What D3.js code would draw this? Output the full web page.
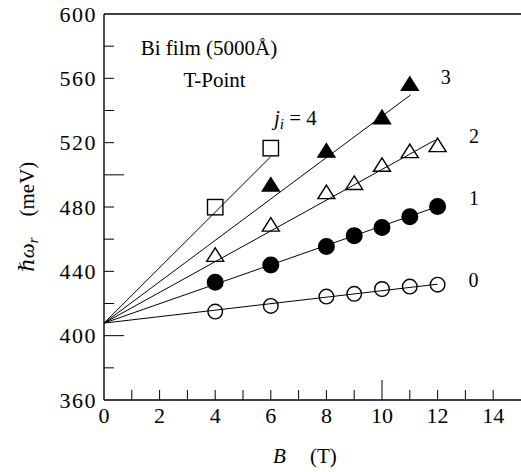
<!DOCTYPE html>
<html>
<head>
<meta charset="utf-8">
<script src="https://cdn.jsdelivr.net/npm/d3@7"></script>
<style>
  html, body { margin: 0; padding: 0; background: #fff; }
  svg { display: block; }
</style>
</head>
<body>
<svg id="chart" width="521" height="472"></svg>
<script>
// ---------------- data ----------------
const seriesNames = ["0", "1", "2", "3", "4"];
const s0B = [4, 6, 8, 9, 10, 11, 12];
const s0V = [415, 418.5, 424.3, 426, 429, 430.5, 431.7];
const s1B = [4, 6, 8, 9, 10, 11, 12];
const s1V = [433.2, 444, 455.4, 462.2, 467.2, 474, 480.3];
const s2B = [4, 6, 8, 9, 10, 11, 12];
const s2V = [449, 467.8, 488, 493.7, 505, 513.5, 517.2];
const s3B = [6, 8, 10, 11];
const s3V = [492.7, 513.8, 534.6, 555.3];
const s4B = [4, 6];
const s4V = [479.9, 516.6];
// fitted straight lines: common origin and end points
const lineOriginB = 0;
const lineOriginV = 407.8;
const lineEndB = [12, 12, 11.9, 11.03, 6.0];
const lineEndV = [432, 480.3, 521.5, 549.7, 511.3];
// label anchors (data coordinates)
const seriesLabelB = [13.29, 13.31, 13.31, 12.29];
const seriesLabelV = [434.7, 485.5, 524.2, 561.1];
const seriesLabelText = ["0", "1", "2", "3"];
const xTicks = [0, 2, 4, 6, 8, 10, 12, 14];
const yTicks = [360, 400, 440, 480, 520, 560, 600];
const xMinor = d3.range(1, 15);
const yMinor = d3.range(380, 600, 20);
const xLongTicks = [10];
const yLongTicks = [400, 500];

const FONT = "'Liberation Serif', 'Times New Roman', Tinos, 'DejaVu Serif', serif";

// ---------------- scales ----------------
const svg = d3.select("#chart").attr("font-family", FONT);
const x = d3.scaleLinear().domain([0, 15]).range([104, 521]);
const y = d3.scaleLinear().domain([360, 600]).range([400, 14]);

const series = [
  {B: s0B, V: s0V, type: "circle", fill: false},
  {B: s1B, V: s1V, type: "circle", fill: true},
  {B: s2B, V: s2V, type: "tri", fill: false},
  {B: s3B, V: s3V, type: "tri", fill: true},
  {B: s4B, V: s4V, type: "square", fill: false}
];

// ---------------- axes frame ----------------
const g = svg.append("g");
g.append("line").attr("x1", x(0)).attr("x2", x(15)).attr("y1", y(360)).attr("y2", y(360))
  .attr("stroke", "#000").attr("stroke-width", 1.4);
g.append("line").attr("x1", x(0)).attr("x2", x(15)).attr("y1", y(600)).attr("y2", y(600))
  .attr("stroke", "#000").attr("stroke-width", 1.4);
g.append("line").attr("x1", x(0)).attr("x2", x(0)).attr("y1", y(360)).attr("y2", y(600))
  .attr("stroke", "#000").attr("stroke-width", 1.4);

// ticks (inward)
g.selectAll(".xt").data(xMinor).enter().append("line")
  .attr("x1", d => x(d)).attr("x2", d => x(d))
  .attr("y1", y(360)).attr("y2", d => y(360) - (xLongTicks.includes(d) ? 20 : 10))
  .attr("stroke", "#000").attr("stroke-width", 1);
g.selectAll(".yt").data(yMinor).enter().append("line")
  .attr("y1", d => y(d)).attr("y2", d => y(d))
  .attr("x1", x(0)).attr("x2", d => x(0) + (yLongTicks.includes(d) ? 20 : 10))
  .attr("stroke", "#000").attr("stroke-width", 1);

// tick labels
g.selectAll(".xl").data(xTicks).enter().append("text")
  .attr("font-family", FONT)
  .attr("x", d => x(d)).attr("y", 423)
  .attr("text-anchor", "middle").attr("font-size", 22)
  .text(d => d);
g.selectAll(".yl").data(yTicks).enter().append("text")
  .attr("font-family", FONT)
  .attr("x", 97).attr("y", d => y(d) + 7.5)
  .attr("text-anchor", "end").attr("font-size", 22).attr("letter-spacing", 1.5)
  .text(d => d);

// axis titles
const xt = g.append("text").attr("font-family", FONT).attr("x", 273).attr("y", 463).attr("font-size", 21);
xt.append("tspan").attr("font-style", "italic").text("B");
xt.append("tspan").attr("x", 310).text("(T)");

const yt = g.append("text").attr("font-family", FONT)
  .attr("transform", "translate(34,216.7) rotate(-90)")
  .attr("text-anchor", "middle").attr("font-size", 21);
yt.append("tspan").attr("font-style", "italic").text("ℏω");
yt.append("tspan").attr("font-style", "italic").attr("font-size", 15).attr("dy", 4).text("r");
yt.append("tspan").attr("dy", -4).text("\u2003(meV)");

// ---------------- fit lines ----------------
g.selectAll(".fit").data(lineEndB).enter().append("line")
  .attr("x1", x(lineOriginB)).attr("y1", y(lineOriginV))
  .attr("x2", (d, i) => x(d)).attr("y2", (d, i) => y(lineEndV[i]))
  .attr("stroke", "#000").attr("stroke-width", 1);

// ---------------- markers ----------------
const triW = 17, triH = 13.5;
const triPath = `M0,${-triH * 2 / 3}L${triW / 2},${triH / 3}L${-triW / 2},${triH / 3}Z`;
series.forEach(s => {
  const pts = s.B.map((b, i) => [b, s.V[i]]);
  const sel = g.selectAll(null).data(pts).enter();
  if (s.type === "circle") {
    sel.append("circle")
      .attr("cx", d => x(d[0])).attr("cy", d => y(d[1]))
      .attr("r", s.fill ? 7.8 : 7.3)
      .attr("fill", s.fill ? "#000" : "none")
      .attr("stroke", "#000").attr("stroke-width", 1.4);
  } else if (s.type === "tri") {
    sel.append("path")
      .attr("d", triPath)
      .attr("transform", d => `translate(${x(d[0])},${y(d[1])})`)
      .attr("fill", s.fill ? "#000" : "none")
      .attr("stroke", "#000").attr("stroke-width", 1.4)
      .attr("stroke-linejoin", "miter");
  } else {
    sel.append("rect")
      .attr("x", d => x(d[0]) - 7.7).attr("y", d => y(d[1]) - 7.7)
      .attr("width", 15.4).attr("height", 15.4)
      .attr("fill", "none").attr("stroke", "#000").attr("stroke-width", 1.4);
  }
});

// ---------------- annotations ----------------
g.selectAll(".sl").data(seriesLabelText).enter().append("text")
  .attr("font-family", FONT)
  .attr("x", (d, i) => x(seriesLabelB[i])).attr("y", (d, i) => y(seriesLabelV[i]) + 7)
  .attr("text-anchor", "middle").attr("font-size", 20)
  .text(d => d);

const ji = g.append("text").attr("font-family", FONT).attr("x", 274).attr("y", 125).attr("font-size", 21);
ji.append("tspan").attr("font-style", "italic").text("j");
ji.append("tspan").attr("font-style", "italic").attr("font-size", 15).attr("dy", 4).text("i");
ji.append("tspan").attr("dy", -4).text(" = 4");

g.append("text").attr("font-family", FONT).attr("x", 209).attr("y", 55).attr("text-anchor", "middle")
  .attr("font-size", 21).text("Bi film (5000Å)");
g.append("text").attr("font-family", FONT).attr("x", 214.5).attr("y", 87).attr("text-anchor", "middle")
  .attr("font-size", 21).text("T-Point");
</script>
</body>
</html>
